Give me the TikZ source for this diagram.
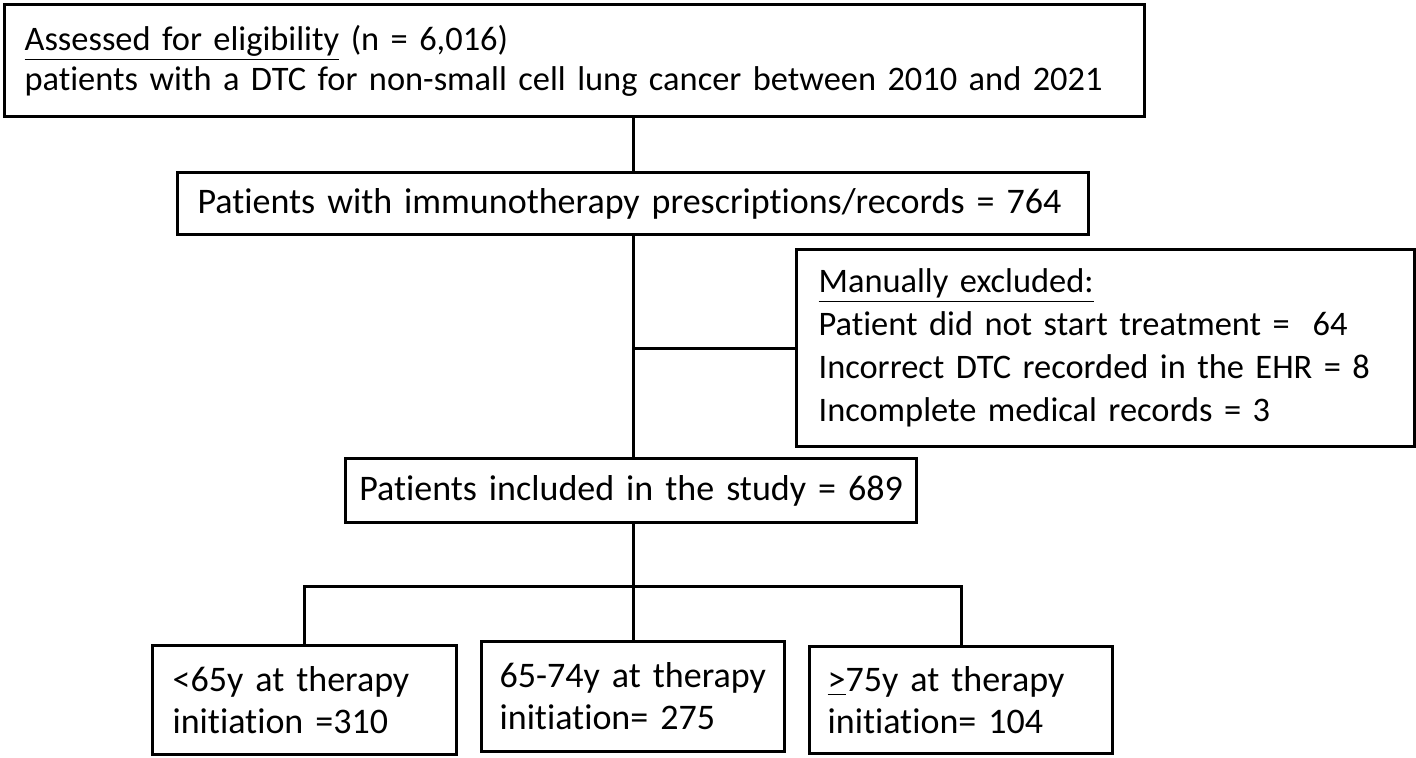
\documentclass[tikz,border=0pt]{standalone}
\usepackage{fontspec}
\setmainfont{Carlito}[Ligatures={NoCommon}]
\usetikzlibrary{positioning,calc}

\begin{document}
\begin{tikzpicture}[
    x=0.5pt, y=-0.5pt,
    every node/.style={font=\fontsize{18}{21}\selectfont},
    small/.style={font=\fontsize{17.2}{20}\selectfont},
    box/.style={draw, line width=1.6pt, fill=white, inner ysep=0pt, align=left, anchor=north west},
    link/.style={line width=1.4pt}
  ]
  \useasboundingbox (0,0) rectangle (1416,757);

  % main column
  \node[box, small, minimum width=570pt, minimum height=56pt, inner xsep=10pt, text width=550pt] (elig) at (3,3)
    {\underline{Assessed for eligibility} (n = 6,016)\\ patients with a DTC for non-small cell lung cancer between 2010 and 2021};
  \node[box, minimum width=455.5pt, minimum height=31pt, inner xsep=10pt, text width=435.5pt] (imm) at (176,171)
    {Patients with immunotherapy prescriptions/records = 764};
  \node[box, small, font=\fontsize{17.2}{21.5}\selectfont, minimum width=309pt, minimum height=98.5pt, inner xsep=11pt, text width=287pt] (excl) at (795,248)
    {\underline{Manually excluded:}\\ Patient did not start treatment =\ \ 64\\ Incorrect DTC recorded in the EHR = 8\\ Incomplete medical records = 3};
  \node[box, minimum width=285.5pt, minimum height=32pt, inner xsep=5pt, text width=275.5pt, align=center] (incl) at (344,457)
    {Patients included in the study = 689};

  % age groups
  \node[box, minimum width=152pt, minimum height=54.5pt, inner xsep=10pt, text width=132pt] (young) at (151,644)
    {<65y at therapy\\ initiation =310};
  \node[box, minimum width=151.5pt, minimum height=55pt, inner xsep=9pt, text width=133.5pt] (mid) at (480,640)
    {65-74y at therapy\\ initiation= 275};
  \node[box, minimum width=151.5pt, minimum height=53.5pt, inner xsep=9pt, text width=133.5pt] (old) at (808,645)
    {\underline{>}75y at therapy\\ initiation= 104};

  \coordinate (split) at ($(incl.south)+(0,62)$);

  \draw[link] (elig.south -| imm.south) -- (imm.north);
  \draw[link] (imm.south) -- (incl.north -| imm.south);
  \draw[link] (excl.west) -- (excl.west -| imm.south);
  \draw[link] (incl.south -| imm.south) -- (split -| imm.south);
  \draw[link] (young.north) |- (split -| imm.south) -| (old.north);
  \draw[link] (split -| imm.south) -- (mid.north);
\end{tikzpicture}
\end{document}
